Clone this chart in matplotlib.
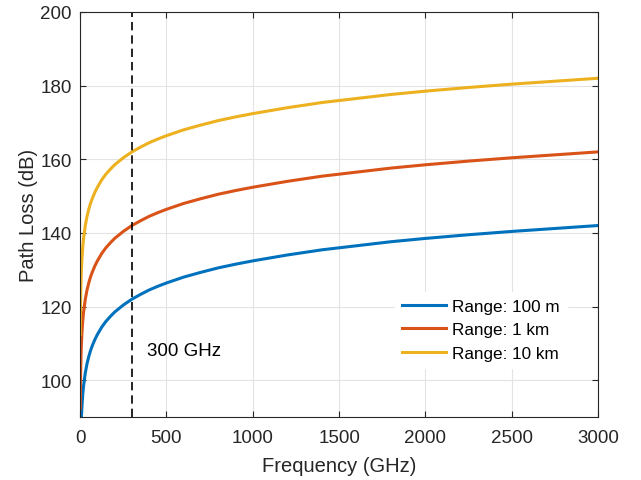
import matplotlib
matplotlib.use("Agg")
import matplotlib.pyplot as plt

# frequency points (GHz) and path loss (dB)
freq = [1, 2, 3, 5, 7, 10, 15, 20, 30, 40, 50, 60, 70, 85, 100, 125, 150, 175,
        200, 250, 300, 350, 400, 450, 500, 600, 700, 800, 900, 1000, 1200,
        1400, 1600, 1800, 2000, 2250, 2500, 2750, 3000]
loss_100m = [72.4, 78.5, 82.0, 86.4, 89.4, 92.4, 96.0, 98.5, 102.0, 104.5,
             106.4, 108.0, 109.3, 111.0, 112.4, 114.4, 116.0, 117.3, 118.5,
             120.4, 122.0, 123.3, 124.5, 125.5, 126.4, 128.0, 129.3, 130.5,
             131.5, 132.4, 134.0, 135.4, 136.5, 137.6, 138.5, 139.5, 140.4,
             141.2, 142.0]
loss_1km = [92.4, 98.5, 102.0, 106.4, 109.4, 112.4, 116.0, 118.5, 122.0, 124.5,
            126.4, 128.0, 129.3, 131.0, 132.4, 134.4, 136.0, 137.3, 138.5,
            140.4, 142.0, 143.3, 144.5, 145.5, 146.4, 148.0, 149.3, 150.5,
            151.5, 152.4, 154.0, 155.4, 156.5, 157.6, 158.5, 159.5, 160.4,
            161.2, 162.0]
loss_10km = [112.4, 118.5, 122.0, 126.4, 129.4, 132.4, 136.0, 138.5, 142.0, 144.5,
             146.4, 148.0, 149.3, 151.0, 152.4, 154.4, 156.0, 157.3, 158.5,
             160.4, 162.0, 163.3, 164.5, 165.5, 166.4, 168.0, 169.3, 170.5,
             171.5, 172.4, 174.0, 175.4, 176.5, 177.6, 178.5, 179.5, 180.4,
             181.2, 182.0]
labels = ["Range: 100 m", "Range: 1 km", "Range: 10 km"]
marker_freq = 300

plt.rcParams["font.family"] = ["Liberation Sans", "DejaVu Sans"]

fig = plt.figure(figsize=(6.41, 4.81), dpi=100)
ax = fig.add_axes([0.125, 0.131, 0.808, 0.842])

colors = ["#0072BD", "#D95319", "#EDB120"]
for y, lab, c in zip([loss_100m, loss_1km, loss_10km], labels, colors):
    ax.plot(freq, y, color=c, linewidth=2.2, label=lab)

ax.axvline(marker_freq, color="black", linestyle=(0, (5, 3)), linewidth=1.2)
ax.text(385, 108, "300 GHz", fontsize=13.5, va="center", ha="left")

ax.set_xlim(0, 3000)
ax.set_ylim(90, 200)
ax.set_xticks(range(0, 3001, 500))
ax.set_yticks(range(100, 201, 20))
ax.set_xlabel("Frequency (GHz)", fontsize=14.5, labelpad=7, color="#262626")
ax.set_ylabel("Path Loss (dB)", fontsize=14.5, labelpad=2, color="#262626")
ax.grid(True, color="#e3e3e3", linewidth=0.8)
ax.set_axisbelow(True)
ax.tick_params(direction="in", top=True, right=True, labelsize=13.5,
               color="#262626", labelcolor="#262626", length=4, pad=6)
ax.tick_params(axis="x", pad=9)
for s in ax.spines.values():
    s.set_color("#262626")
    s.set_linewidth(0.8)

leg = ax.legend(loc="upper left", bbox_to_anchor=(0.608, 0.309), borderaxespad=0,
                fontsize=12.3, frameon=True, fancybox=False, framealpha=1,
                edgecolor="white", handlelength=2.6, handletextpad=0.35,
                labelspacing=0.5)

fig.savefig("out.png", dpi=100)
